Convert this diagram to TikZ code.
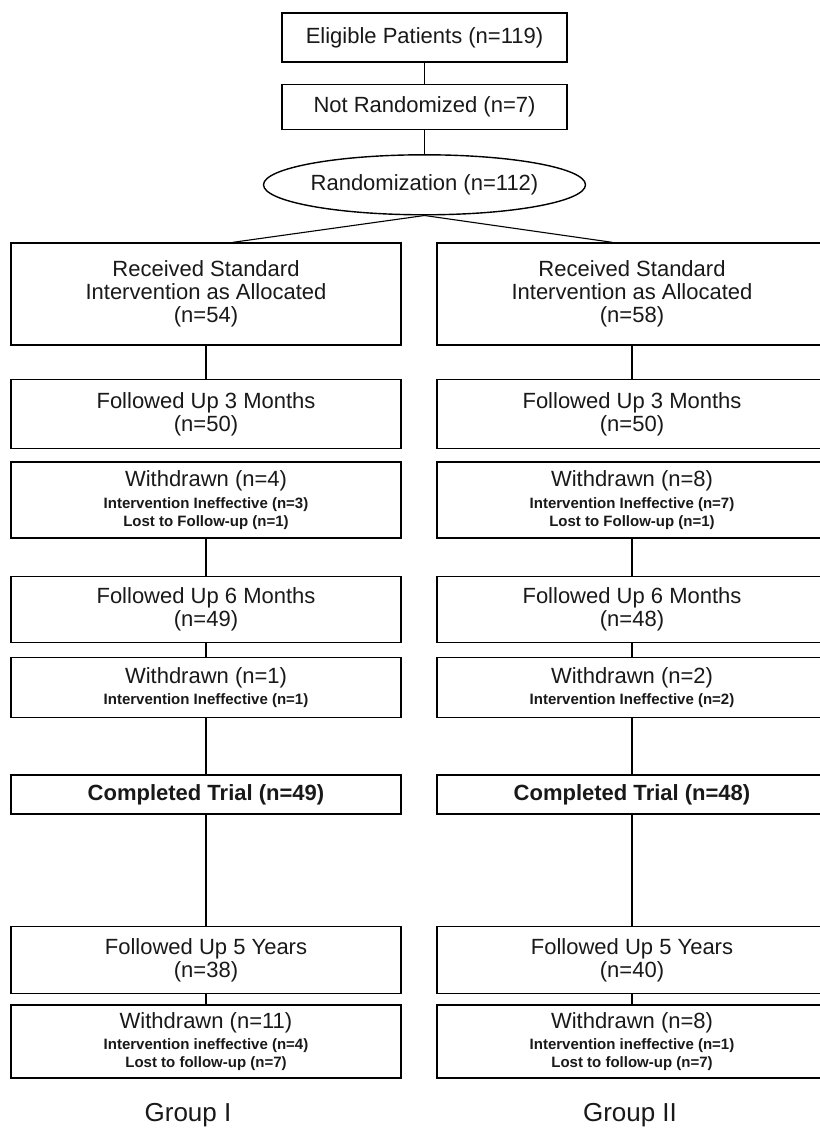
\documentclass[tikz,border=0pt]{standalone}
\usepackage{fontspec}
\setmainfont{Liberation Sans}
\usetikzlibrary{positioning,shapes.geometric}

\newcommand{\smalltxt}{\fontsize{15}{19}\selectfont\bfseries}

\begin{document}
\begin{tikzpicture}[x=1pt,y=1pt,
  every node/.style={align=center, text=black!90, inner sep=0pt, font=\fontsize{22}{23}\selectfont},
  box/.style={draw, rectangle, line width=1.4pt, minimum width=390pt},
  oval/.style={draw, ellipse, line width=1.4pt, minimum width=287pt, minimum height=60pt},
  link/.style={line width=1.1pt}]
\useasboundingbox[fill=white] (0,0) rectangle (819,-1129);

\node[box, minimum width=285pt, minimum height=49pt] (elig) at (424.5,-37.5) {Eligible Patients (n=119)};
\node[box, minimum width=285pt, minimum height=45pt, below=21pt of elig] (notrand) {Not Randomized (n=7)};
\node[oval, below=24pt of notrand] (rand) {Randomization (n=112)};

% Group I
\node[box, minimum height=102pt] (g1recv) at (206,-294) {Received Standard\\Intervention as Allocated\\(n=54)};
\node[box, minimum height=69pt, below=33pt of g1recv] (g1fu3) {Followed Up 3 Months\\(n=50)};
\node[box, minimum height=76pt, below=12pt of g1fu3] (g1wd3m) {Withdrawn (n=4)\\[-1pt]\smalltxt Intervention Ineffective (n=3)\\[-5pt]\smalltxt Lost to Follow-up (n=1)};
\node[box, minimum height=66pt, below=37pt of g1wd3m] (g1fu6) {Followed Up 6 Months\\(n=49)};
\node[box, minimum height=60pt, below=14pt of g1fu6] (g1wd6m) {Withdrawn (n=1)\\[-2pt]\smalltxt Intervention Ineffective (n=1)};
\node[box, minimum height=39pt, below=56pt of g1wd6m] (g1done) {\bfseries Completed Trial (n=49)};
\node[box, minimum height=67pt, below=111pt of g1done] (g1fu5) {Followed Up 5 Years\\(n=38)};
\node[box, minimum height=73pt, below=10pt of g1fu5] (g1wd5y) {Withdrawn (n=11)\\[-2pt]\smalltxt Intervention ineffective (n=4)\\[-5pt]\smalltxt Lost to follow-up (n=7)};
\node[anchor=base, font=\fontsize{26}{30}\selectfont] (g1name) at (188,-1121) {Group I};

% Group II
\node[box, minimum height=102pt] (g2recv) at (632,-294) {Received Standard\\Intervention as Allocated\\(n=58)};
\node[box, minimum height=69pt, below=33pt of g2recv] (g2fu3) {Followed Up 3 Months\\(n=50)};
\node[box, minimum height=76pt, below=12pt of g2fu3] (g2wd3m) {Withdrawn (n=8)\\[-1pt]\smalltxt Intervention Ineffective (n=7)\\[-5pt]\smalltxt Lost to Follow-up (n=1)};
\node[box, minimum height=66pt, below=37pt of g2wd3m] (g2fu6) {Followed Up 6 Months\\(n=48)};
\node[box, minimum height=60pt, below=14pt of g2fu6] (g2wd6m) {Withdrawn (n=2)\\[-2pt]\smalltxt Intervention Ineffective (n=2)};
\node[box, minimum height=39pt, below=56pt of g2wd6m] (g2done) {\bfseries Completed Trial (n=48)};
\node[box, minimum height=67pt, below=111pt of g2done] (g2fu5) {Followed Up 5 Years\\(n=40)};
\node[box, minimum height=73pt, below=10pt of g2fu5] (g2wd5y) {Withdrawn (n=8)\\[-2pt]\smalltxt Intervention ineffective (n=1)\\[-5pt]\smalltxt Lost to follow-up (n=7)};
\node[anchor=base, font=\fontsize{26}{30}\selectfont] (g2name) at (630,-1121) {Group II};

% connectors
\draw[link] (elig) -- (notrand);
\draw[link] (notrand) -- (rand);
\draw[link] (rand.south) -- ([xshift=27pt]g1recv.north);
\draw[link] (rand.south) -- ([xshift=-20pt]g2recv.north);
\draw[link] (g1recv) -- (g1fu3);
\draw[link] (g1wd3m) -- (g1fu6);
\draw[link] (g1fu6) -- (g1wd6m);
\draw[link] (g1wd6m) -- (g1done);
\draw[link] (g1done) -- (g1fu5);
\draw[link] (g1fu5) -- (g1wd5y);
\draw[link] (g2recv) -- (g2fu3);
\draw[link] (g2wd3m) -- (g2fu6);
\draw[link] (g2fu6) -- (g2wd6m);
\draw[link] (g2wd6m) -- (g2done);
\draw[link] (g2done) -- (g2fu5);
\draw[link] (g2fu5) -- (g2wd5y);
\end{tikzpicture}
\end{document}
